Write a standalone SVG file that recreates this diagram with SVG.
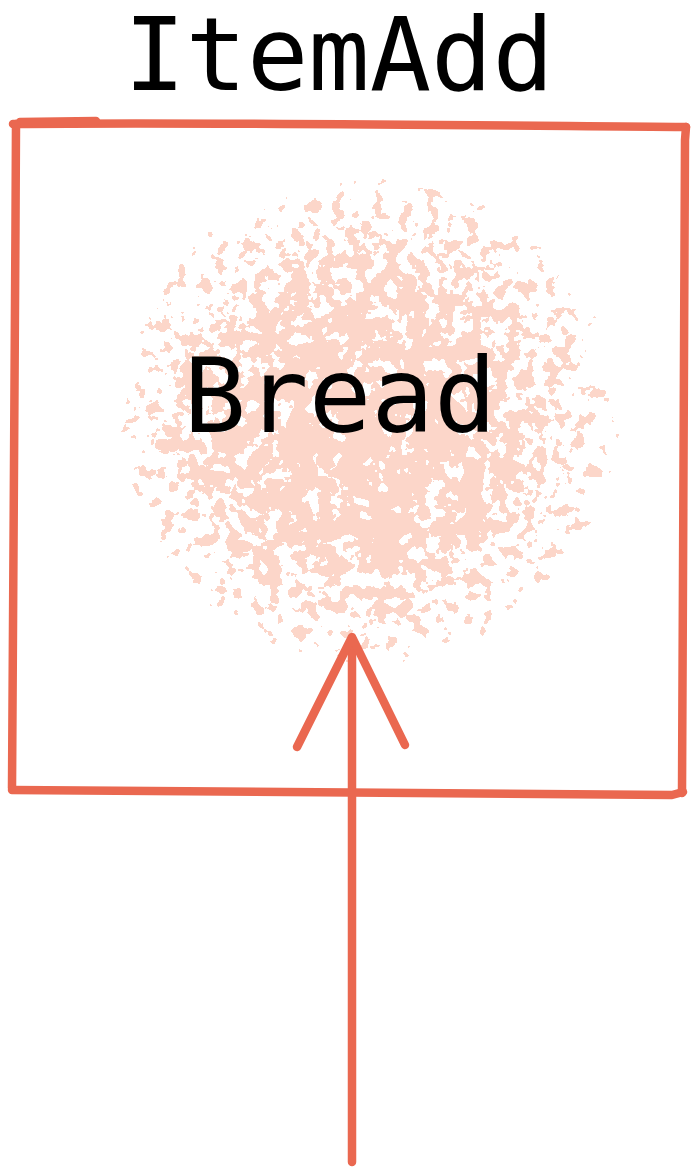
<svg xmlns="http://www.w3.org/2000/svg" width="693" height="1174" viewBox="0 0 693 1174">
<style>
.ink{fill:none;stroke:#ea6850;stroke-width:8.5;stroke-linecap:round;stroke-linejoin:round}
.lbl{font-family:"DejaVu Sans Mono","Liberation Mono",monospace;fill:#000;text-anchor:middle}
</style>
<defs>
<radialGradient id="fade" cx="0.5" cy="0.5" r="0.5">
<stop offset="0" stop-color="#000" stop-opacity="0.95"/>
<stop offset="0.45" stop-color="#000" stop-opacity="0.85"/>
<stop offset="0.8" stop-color="#000" stop-opacity="0.6"/>
<stop offset="1" stop-color="#000" stop-opacity="0"/>
</radialGradient>
<filter id="splat" x="0" y="0" width="100%" height="100%" color-interpolation-filters="sRGB">
<feTurbulence type="fractalNoise" baseFrequency="0.075" numOctaves="3" seed="11" result="n"/>
<feComposite in="n" in2="SourceGraphic" operator="arithmetic" k1="1.55" k2="0" k3="0" k4="0" result="m"/>
<feComponentTransfer in="m" result="t">
<feFuncA type="discrete" tableValues="0 0 0 0 0 0 1 1 1 1"/>
</feComponentTransfer>
<feFlood flood-color="#fcd6c9"/>
<feComposite in2="t" operator="in"/>
</filter>
<filter id="splat2" x="0" y="0" width="100%" height="100%" color-interpolation-filters="sRGB">
<feTurbulence type="fractalNoise" baseFrequency="0.035" numOctaves="2" seed="4" result="n"/>
<feComposite in="n" in2="SourceGraphic" operator="arithmetic" k1="1.5" k2="0" k3="0" k4="0" result="m"/>
<feComponentTransfer in="m" result="t">
<feFuncA type="discrete" tableValues="0 0 0 0 0 0 0 1 1 1"/>
</feComponentTransfer>
<feFlood flood-color="#fcd6c9"/>
<feComposite in2="t" operator="in"/>
</filter>
</defs>
<g id="title">
<text class="lbl" x="339" y="90" font-size="102">ItemAdd</text>
</g>
<g id="node-bread">
<ellipse cx="368" cy="420" rx="300" ry="290" fill="url(#fade)" filter="url(#splat)"/>
<ellipse cx="355" cy="440" rx="270" ry="260" fill="url(#fade)" filter="url(#splat2)"/>
<path class="ink" d="M13,124 C200,122 450,125 686,127"/>
<path class="ink" d="M20,122 L96,121"/>
<path class="ink" d="M16,124 C15,350 13,580 12,788"/>
<path class="ink" d="M12,790 C230,792 450,794 672,795 L683,792"/>
<path class="ink" d="M686,127 L685,140 C684,360 683,580 682,793"/>
<text class="lbl" x="340" y="432" font-size="104">Bread</text>
</g>
<g id="connectors">
<path class="ink" d="M352,1162 C352,980 351,800 352,638"/>
<path class="ink" d="M297,747 L352,637 L405,745"/>
</g>
</svg>
